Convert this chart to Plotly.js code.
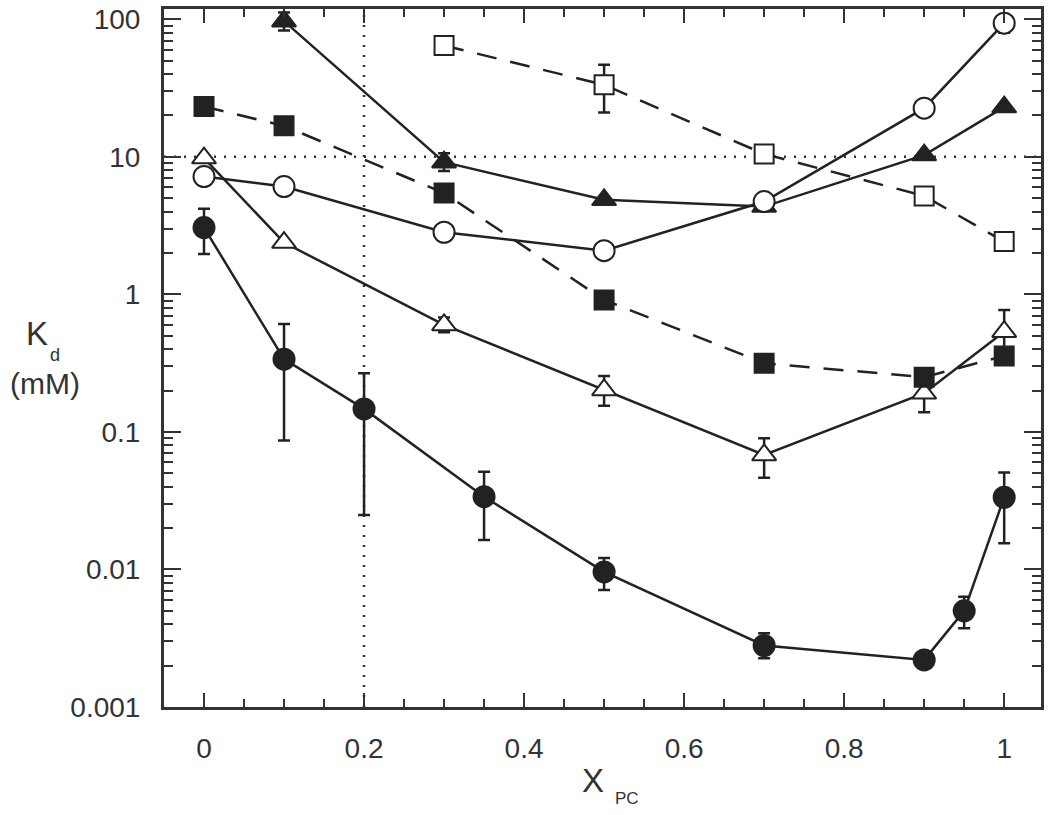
<!DOCTYPE html>
<html>
<head>
<meta charset="utf-8">
<script src="https://cdn.plot.ly/plotly-3.0.1.min.js"></script>
<style>
  html, body { margin: 0; padding: 0; background: #fff; }
  #chart { width: 1050px; height: 815px; }
</style>
</head>
<body>
<div id="chart"></div>
<script>
'use strict';

/* global Plotly */

// Kd (mM) against X_PC; hi/lo are the error bar ends
const filledCircleX = [0, 0.1, 0.2, 0.35, 0.5, 0.7, 0.9, 0.95, 1];
const filledCircleY = [3.06, 0.338, 0.147, 0.0338, 0.0096, 0.0028, 0.0022, 0.005, 0.0335];
const filledCircleHi = [4.2, 0.61, 0.267, 0.0514, 0.0121, 0.00344, 0.0022, 0.00634, 0.0506];
const filledCircleLo = [1.97, 0.0865, 0.0249, 0.0164, 0.0071, 0.00226, 0.0022, 0.00373, 0.0155];

const openTriangleX = [0, 0.1, 0.3, 0.5, 0.7, 0.9, 1];
const openTriangleY = [9.8, 2.38, 0.6, 0.202, 0.068, 0.191, 0.536];
const openTriangleHi = [9.8, 2.38, 0.68, 0.255, 0.09, 0.24, 0.771];
const openTriangleLo = [9.8, 2.38, 0.53, 0.155, 0.0465, 0.139, 0.39];

const filledSquareX = [0, 0.1, 0.3, 0.5, 0.7, 0.9, 1];
const filledSquareY = [23.2, 16.8, 5.45, 0.912, 0.316, 0.25, 0.357];

const filledTriangleX = [0.1, 0.3, 0.5, 0.7, 0.9, 1];
const filledTriangleY = [97, 9.15, 4.87, 4.35, 10.3, 23.0];
const filledTriangleHi = [112, 10.6, 4.87, 4.35, 10.3, 23.0];
const filledTriangleLo = [83, 7.9, 4.87, 4.35, 10.3, 23.0];

const openCircleX = [0, 0.1, 0.3, 0.5, 0.7, 0.9, 1];
const openCircleY = [7.19, 6.08, 2.83, 2.08, 4.73, 22.6, 93.8];
const openCircleHi = [7.19, 6.08, 2.83, 2.08, 4.73, 22.6, 105];
const openCircleLo = [7.19, 6.08, 2.83, 2.08, 4.73, 22.6, 80];

const openSquareX = [0.3, 0.5, 0.7, 0.9, 1];
const openSquareY = [64.5, 33.4, 10.5, 5.2, 2.42];
const openSquareHi = [64.5, 46.7, 10.5, 5.2, 2.42];
const openSquareLo = [64.5, 21.0, 10.5, 5.2, 2.42];

// dotted guide lines
const guideX = 0.2;
const guideY = 10;

const INK = '#222';
const FONT = '"Liberation Sans", Arial, sans-serif';

function errorBars(y, hi, lo) {
  if (!hi) {
    return {visible: false};
  }
  return {
    type: 'data',
    symmetric: false,
    array: hi.map((h, i) => h - y[i]),
    arrayminus: lo.map((l, i) => y[i] - l),
    color: INK,
    thickness: 2.5,
    width: 6,
  };
}

function series(x, y, symbol, filled, dash, size, hi, lo) {
  return {
    x: x,
    y: y,
    type: 'scatter',
    mode: 'lines+markers',
    line: {color: INK, width: 2.5, dash: dash},
    marker: {
      symbol: symbol,
      size: size,
      color: filled ? INK : '#fff',
      line: {color: INK, width: 2},
    },
    error_y: errorBars(y, hi, lo),
    showlegend: false,
    cliponaxis: true,
  };
}

const data = [
  series(filledCircleX, filledCircleY, 'circle', true, 'solid', 21, filledCircleHi, filledCircleLo),
  series(openTriangleX, openTriangleY, 'triangle-up', false, 'solid', 21, openTriangleHi, openTriangleLo),
  series(filledSquareX, filledSquareY, 'square', true, '20px,14px', 19),
  series(filledTriangleX, filledTriangleY, 'triangle-up', true, 'solid', 21, filledTriangleHi, filledTriangleLo),
  series(openCircleX, openCircleY, 'circle', false, 'solid', 21, openCircleHi, openCircleLo),
  series(openSquareX, openSquareY, 'square', false, '20px,14px', 19, openSquareHi, openSquareLo),
];

const axisCommon = {
  showline: true,
  linecolor: '#333',
  linewidth: 3,
  mirror: 'ticks',
  ticks: 'inside',
  tickcolor: '#333',
  tickwidth: 2,
  showgrid: false,
  zeroline: false,
  tickfont: {family: FONT, size: 28, color: '#333'},
};

function label(text, x, y, size) {
  return {
    text: text,
    xref: 'paper',
    yref: 'paper',
    x: x,
    y: y,
    xanchor: 'center',
    yanchor: 'middle',
    showarrow: false,
    font: {family: FONT, size: size, color: '#333'},
  };
}

const layout = {
  width: 1050,
  height: 815,
  margin: {l: 164, r: 9, t: 9, b: 108},
  paper_bgcolor: '#fff',
  plot_bgcolor: '#fff',
  xaxis: Object.assign({}, axisCommon, {
    range: [-0.05, 1.046],
    tickmode: 'linear',
    tick0: 0,
    dtick: 0.2,
    ticklen: 14,
    ticklabelstandoff: 14,
    minor: {ticks: 'inside', tick0: 0, dtick: 0.05, ticklen: 8, tickwidth: 2, tickcolor: '#333'},
  }),
  yaxis: Object.assign({}, axisCommon, {
    type: 'log',
    range: [-3, 2.075],
    tickmode: 'linear',
    tick0: 0,
    dtick: 1,
    exponentformat: 'none',
    ticklen: 17,
    ticklabelstandoff: 15,
    minor: {ticks: 'inside', dtick: 'D1', ticklen: 9, tickwidth: 2, tickcolor: '#333'},
  }),
  shapes: [
    {type: 'line', xref: 'x', yref: 'paper', x0: guideX, x1: guideX, y0: 0, y1: 1,
      line: {color: '#333', width: 2.5, dash: '2px,8px'}, layer: 'below'},
    {type: 'line', xref: 'paper', yref: 'y', x0: 0, x1: 1, y0: guideY, y1: guideY,
      line: {color: '#333', width: 2.5, dash: '2px,8px'}, layer: 'below'},
  ],
  annotations: [
    label('K', -0.1448, 0.5358, 33),
    label('d', -0.1243, 0.5043, 18),
    label('(mM)', -0.1357, 0.4628, 30),
    label('X', 0.4892, -0.1046, 33),
    label('PC', 0.528, -0.1318, 17),
  ],
};

Plotly.newPlot('chart', data, layout, {staticPlot: true});
</script>
</body>
</html>
